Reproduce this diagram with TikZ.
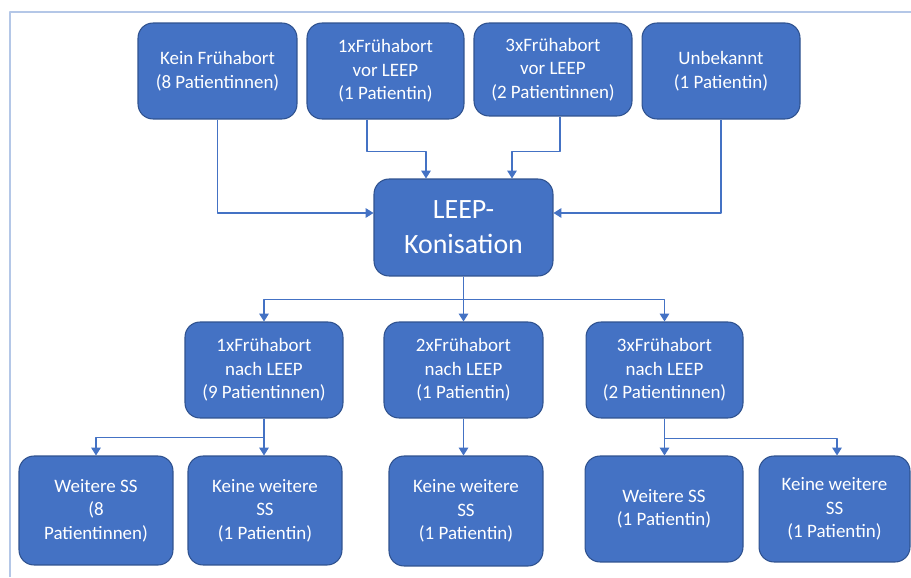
\documentclass[tikz,border=0pt]{standalone}
\usepackage{fontspec}
\setmainfont{Carlito}
\usetikzlibrary{arrows.meta,calc}
\definecolor{boxblau}{HTML}{4472C4}
\definecolor{boxrand}{HTML}{2F528F}
\definecolor{linie}{HTML}{4472C4}
\definecolor{rahmen}{HTML}{B4C7E7}
\tikzset{
	kasten/.style={draw=boxrand, fill=boxblau, rounded corners=0.3cm, text=white, align=center, inner sep=0pt, line width=0.6pt},
	verb/.style={draw=linie, line width=0.6pt, ->},
}
\begin{document}
\begin{tikzpicture}[x=0.02cm, y=-0.02cm, font=\fontsize{10.8}{13.4}\selectfont, line join=round, >={Triangle[length=4.5pt,width=5.5pt]}]
			\useasboundingbox (0,0) rectangle (911,577);
			\draw[rahmen, line width=0.8pt] (10,577)--(10,12)--(911,12);
			% obere Reihe
			\node[kasten, minimum width=3.18cm, minimum height=1.92cm] (kein) at (217.5,71) {Kein Frühabort\\(8 Patientinnen)};
			\node[kasten, minimum width=3.14cm, minimum height=1.92cm] (vor1) at (385.5,71) {1xFrühabort\\vor LEEP\\(1 Patientin)};
			\node[kasten, minimum width=3.16cm, minimum height=1.86cm] (vor3) at (553,69.5) {3xFrühabort\\vor LEEP\\(2 Patientinnen)};
			\node[kasten, minimum width=3.16cm, minimum height=1.92cm] (unbek) at (721,71) {Unbekannt\\(1 Patientin)};
			% Mitte
			\node[kasten, minimum width=3.58cm, minimum height=1.94cm, font=\fontsize{15.9}{19.9}\selectfont] (leep) at (463.5,227.5) {LEEP-\\Konisation};
			\node[kasten, minimum width=3.16cm, minimum height=1.92cm] (nach1) at (264,370) {1xFrühabort\\nach LEEP\\(9 Patientinnen)};
			\node[kasten, minimum width=3.18cm, minimum height=1.92cm] (nach2) at (463.5,370) {2xFrühabort\\nach LEEP\\(1 Patientin)};
			\node[kasten, minimum width=3.14cm, minimum height=1.92cm] (nach3) at (664.5,370) {3xFrühabort\\nach LEEP\\(2 Patientinnen)};
			% untere Reihe
			\node[kasten, minimum width=3.08cm, minimum height=2.18cm] (w1) at (96,510.5) {Weitere SS\\(8\\Patientinnen)};
			\node[kasten, minimum width=3.08cm, minimum height=2.18cm] (k1) at (265,510.5) {Keine weitere\\SS\\(1 Patientin)};
			\node[kasten, minimum width=3.08cm, minimum height=2.2cm] (k2) at (466,511) {Keine weitere\\SS\\(1 Patientin)};
			\node[kasten, minimum width=3.16cm, minimum height=2.12cm] (w3) at (664,509) {Weitere SS\\(1 Patientin)};
			\node[kasten, minimum width=3.02cm, minimum height=2.12cm] (k3) at (834.5,509) {Keine weitere\\SS\\(1 Patientin)};
			% Pfeile zur Konisation
			\draw[verb] (kein.south) |- ($(leep.west)+(0,-14.5)$);
			\draw[verb] ($(vor1.south)+(-18.5,0)$) -- ++(0,32) -| ($(leep.north)+(-37.5,0)$);
			\draw[verb] ($(vor3.south)+(7,0)$) -- ++(0,35) -| ($(leep.north)+(48.5,0)$);
			\draw[verb] (unbek.south) |- ($(leep.east)+(0,-14.5)$);
			% Pfeile nach der Konisation
			\draw[verb] (leep.south) -- (nach2.north);
			\draw[verb] (leep.south) -- ++(0,23) -| (nach1.north);
			\draw[verb] (leep.south) -- ++(0,23) -| (nach3.north);
			% Pfeile zu weiteren SS
			\draw[verb] (nach1.south) -- ++(0,19) -| (w1.north);
			\draw[verb] (nach1.south) -- (nach1.south |- k1.north);
			\draw[verb] (nach2.south) -- (nach2.south |- k2.north);
			\draw[verb] (nach3.south) -- (nach3.south |- w3.north);
			\draw[verb] (nach3.south) -- ++(0,20) -| ($(k3.north)+(2.5,0)$);
		\end{tikzpicture}
\end{document}
